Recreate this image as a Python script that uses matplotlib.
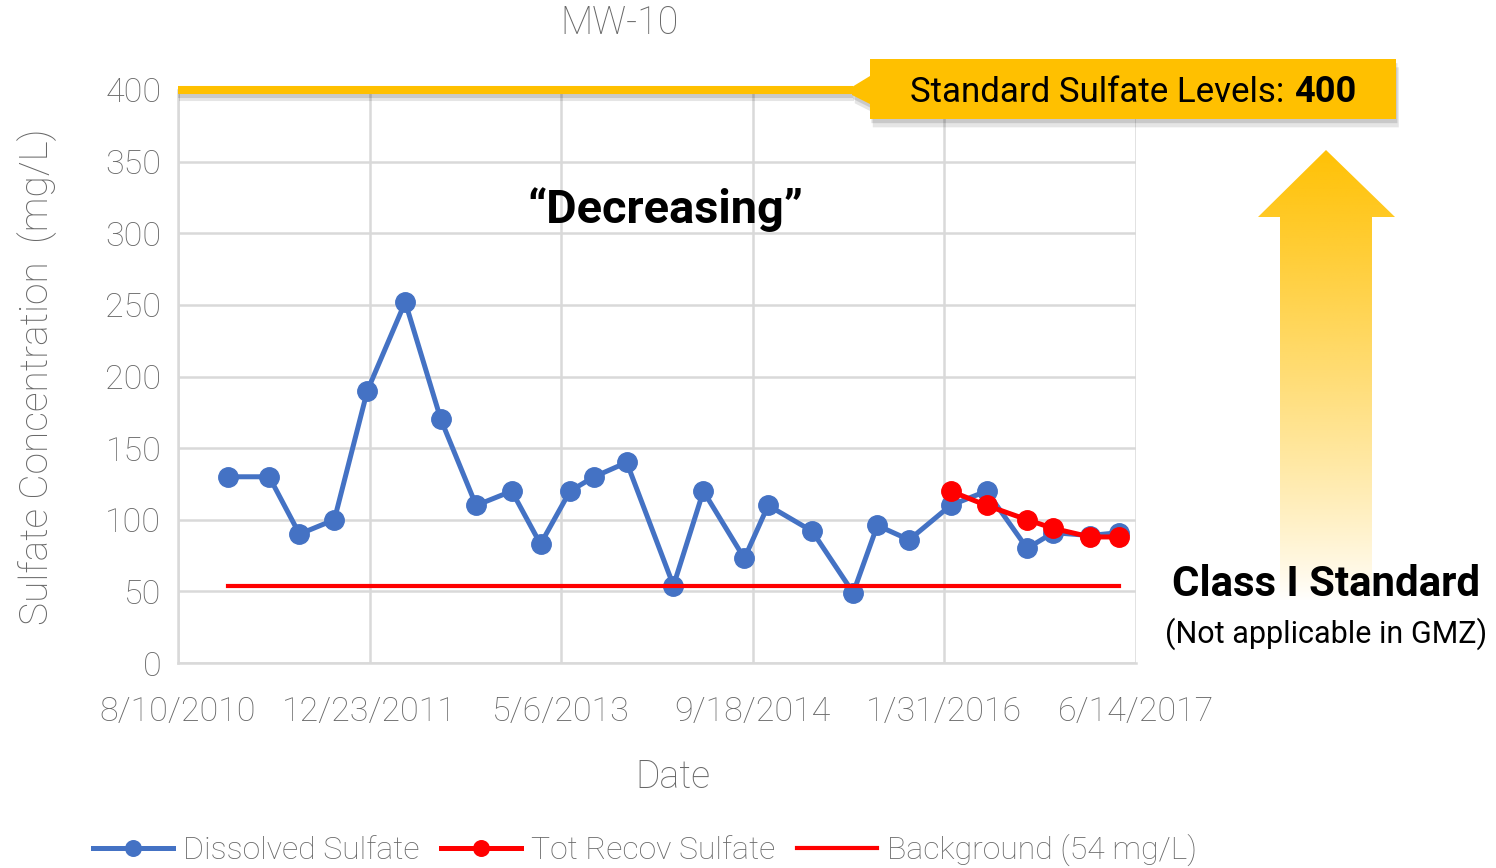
import numpy as np
import pandas as pd
import matplotlib
matplotlib.use('Agg')
import matplotlib.pyplot as plt
import matplotlib.patheffects as pe
from matplotlib.patches import Polygon
from matplotlib.font_manager import FontProperties

# sampling dates and results (mg/L)
dissolved_dates = ['2010-12-19', '2011-04-05', '2011-06-23', '2011-09-22', '2011-12-17',
                   '2012-03-25', '2012-06-26', '2012-09-26', '2012-12-28', '2013-03-13',
                   '2013-05-29', '2013-07-31', '2013-10-24', '2014-02-23', '2014-05-12',
                   '2014-08-27', '2014-10-28', '2015-02-20', '2015-06-07', '2015-08-09',
                   '2015-10-31', '2016-02-16', '2016-05-20', '2016-09-03', '2016-11-10',
                   '2017-02-14', '2017-05-01']
dissolved = [130, 130, 90, 100, 190, 252, 170, 110, 120, 83, 120, 130, 140, 54, 120,
             73, 110, 92, 49, 96, 86, 110, 120, 80, 91, 89, 91]

tot_recov_dates = ['2016-02-16', '2016-05-20', '2016-09-03', '2016-11-10', '2017-02-14', '2017-05-01']
tot_recov = [120, 110, 100, 94, 88, 88]

background = 54
standard = 400

x_start, x_end = '2010-08-10', '2017-06-14'
y_ticks = [0, 50, 100, 150, 200, 250, 300, 350, 400]

BLUE = '#4472C4'
RED = '#FF0000'
GOLD = '#FFC000'
GREY = '#686868'
GRID = '#D9D9D9'

light = FontProperties(family='Roboto', weight='light', size=24.5)

W, H = 1496, 868
fig = plt.figure(figsize=(W / 100, H / 100), dpi=100)
ax = fig.add_axes([178 / W, 1 - 663 / H, (1136 - 178) / W, (663 - 90) / H])

d_dates = pd.to_datetime(dissolved_dates)
t_dates = pd.to_datetime(tot_recov_dates)

ax.plot(d_dates, dissolved, color=BLUE, lw=3.6, marker='o', ms=14, zorder=3,
        label='Dissolved Sulfate')
ax.plot(t_dates, tot_recov, color=RED, lw=3.6, marker='o', ms=14, zorder=4,
        label='Tot Recov Sulfate')
ax.plot([d_dates[0], d_dates[-1]], [background, background], color=RED, lw=3,
        zorder=5, label='Background (54 mg/L)')

# axis ranges and ticks
x0, x1 = pd.Timestamp(x_start), pd.Timestamp(x_end)
ax.set_xlim(x0, x1)
ax.set_ylim(0, 400)
xt = pd.date_range(x0, x1, freq='500D')
ax.set_xticks(xt)
ax.set_xticklabels([f'{d.month}/{d.day}/{d.year}' for d in xt])
ax.set_yticks(y_ticks)
ax.tick_params(length=0, colors=GREY)
ax.tick_params(axis='x', pad=24)
ax.tick_params(axis='y', pad=12)
for lab in ax.get_xticklabels() + ax.get_yticklabels():
    lab.set_fontproperties(light)
ax.grid(True, color=GRID, lw=1.8, zorder=0)
ax.set_axisbelow(True)
for side in ['top', 'right']:
    ax.spines[side].set_visible(False)
for side in ['left', 'bottom']:
    ax.spines[side].set_color(GRID)
    ax.spines[side].set_linewidth(1.8)

# standard level line with drop shadow
shadow = [pe.SimpleLineShadow(offset=(0, -3), shadow_color='k', alpha=0.12),
          pe.SimpleLineShadow(offset=(1, -5), shadow_color='k', alpha=0.10),
          pe.Normal()]
ax.axhline(standard, xmin=0, xmax=(853 - 178) / 958, color=GOLD, lw=5.8,
           solid_capstyle='butt', clip_on=False, zorder=6, path_effects=shadow)

# labels in figure pixel coordinates
fig.text(620 / W, 1 - 23 / H, 'MW-10', ha='center', va='center', color=GREY,
         fontproperties=FontProperties(family='Roboto', weight='light', size=27))
fig.text(673 / W, 1 - 777 / H, 'Date', ha='center', va='center', color=GREY,
         fontproperties=FontProperties(family='Roboto', weight='light', size=27))
fig.text(37 / W, 1 - 377 / H, 'Sulfate Concentration  (mg/L)', ha='center', va='center',
         rotation=90, color=GREY,
         fontproperties=FontProperties(family='Roboto', weight='light', size=28))

# overlay for callout, arrow and annotations
ov = fig.add_axes([0, 0, 1, 1], zorder=10)
ov.set_xlim(0, W)
ov.set_ylim(H, 0)
ov.axis('off')
renderer = fig.canvas.get_renderer()


def fit_width(txt, width_px):
    # rescale a text so it spans the given width in pixels
    w = txt.get_window_extent(renderer=renderer).width
    txt.set_fontsize(txt.get_fontsize() * width_px / w)


callout = Polygon([(852, 87), (870, 76), (870, 59), (1396, 59), (1396, 119),
                   (870, 119), (870, 104), (852, 95)], closed=True, fc=GOLD, ec='none',
                  path_effects=[pe.SimplePatchShadow(offset=(1, -3), shadow_rgbFace='k', alpha=0.12),
                                pe.SimplePatchShadow(offset=(2, -6), shadow_rgbFace='k', alpha=0.10),
                                pe.Normal()])
ov.add_patch(callout)

t1 = ov.text(910, 92, 'Standard Sulfate Levels: ', ha='left', va='center',
             family='Roboto', fontsize=26, color='k')
t2 = ov.text(1356, 92, '400', ha='right', va='center', family='Roboto',
             fontsize=26, fontweight='bold', color='k')
fit_width(t1, 1356 - 910 - t2.get_window_extent(renderer=renderer).width)

# gradient arrow
arrow_pts = [(1326, 150), (1395, 217), (1372, 217), (1372, 602), (1280, 602),
             (1280, 217), (1258, 217)]
arrow = Polygon(arrow_pts, closed=True, fc='none', ec='none')
ov.add_patch(arrow)
fade = np.linspace(0, 1, 256)
grad = np.zeros((256, 1, 4))
grad[..., 0] = 1.0
grad[..., 1] = 0xC0 / 255
grad[..., 2] = 0.0
grad[..., 3] = ((1 - fade) ** 0.85)[:, None] * 0.98
im = ov.imshow(grad, extent=(1258, 1396, 602, 150), origin='upper', aspect='auto',
               interpolation='bilinear', zorder=1)
im.set_clip_path(arrow)
ov.set_xlim(0, W)
ov.set_ylim(H, 0)

c1 = ov.text(1326, 584, 'Class I Standard', ha='center', va='center', family='Roboto',
             fontsize=30, fontweight='bold', color='k', zorder=3)
fit_width(c1, 308)
c2 = ov.text(1326, 634, '(Not applicable in GMZ)', ha='center', va='center', family='Roboto',
             fontsize=22, color='k', zorder=3)
fit_width(c2, 322)
dec = ov.text(665, 210, '\u201cDecreasing\u201d', ha='center', va='center', family='Roboto',
              fontsize=30, fontweight='bold', color='k', zorder=3)
fit_width(dec, 276)

# legend along the bottom
handles, labels = ax.get_legend_handles_labels()
leg = fig.legend(handles, labels, loc='center', bbox_to_anchor=(645 / W, 1 - 850 / H),
                 ncol=3, frameon=False, handlelength=2.5, handletextpad=0.3,
                 columnspacing=0.7, markerscale=0.8,
                 prop=FontProperties(family='Roboto', weight='light', size=23))
for t in leg.get_texts():
    t.set_color(GREY)

fig.savefig('out.png', dpi=100)
